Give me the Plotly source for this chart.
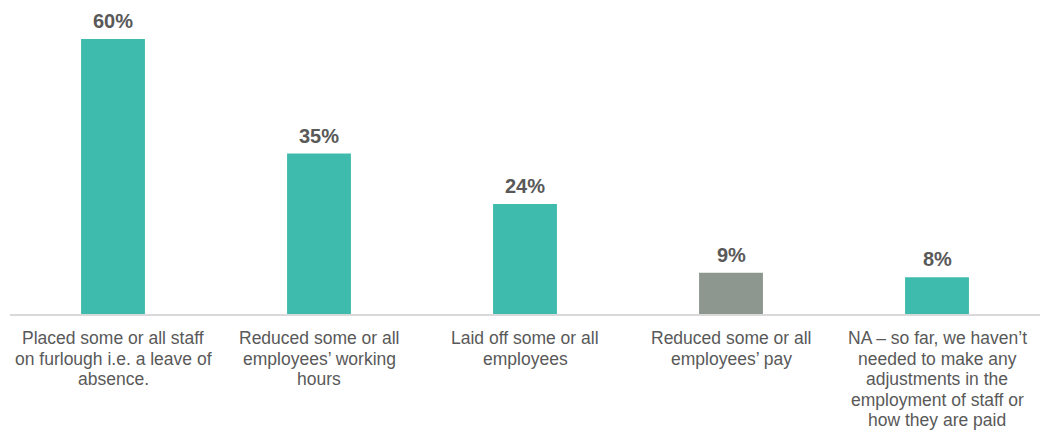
import plotly.graph_objects as go

categories = [
    "Placed some or all staff<br>on furlough i.e. a leave of<br>absence.",
    "Reduced some or all<br>employees’ working<br>hours",
    "Laid off some or all<br>employees",
    "Reduced some or all<br>employees’ pay",
    "NA – so far, we haven’t<br>needed to make any<br>adjustments in the<br>employment of staff or<br>how they are paid",
]
values = [60, 35, 24, 9, 8]
value_labels = ["60%", "35%", "24%", "9%", "8%"]
bar_colors = ["#3FBBAE", "#3FBBAE", "#3FBBAE", "#8E9690", "#3FBBAE"]

xs = list(range(len(categories)))
FONT = "Arial, Liberation Sans"

fig = go.Figure()
fig.add_trace(go.Bar(
    x=xs, y=values,
    marker=dict(color=bar_colors, line=dict(width=0)),
    hoverinfo="skip",
))

for x, v, t in zip(xs, values, value_labels):
    fig.add_annotation(x=x, y=v, text="<b>%s</b>" % t, showarrow=False,
                       yanchor="bottom", yshift=5,
                       font=dict(family=FONT, size=20, color="#595959"))

# category labels, one annotation per line for tighter line spacing
for x, cat in zip(xs, categories):
    for k, line in enumerate(cat.split("<br>")):
        fig.add_annotation(x=x, y=0, text=line, showarrow=False,
                           yanchor="top", yshift=-12 - 20.5 * k,
                           font=dict(family=FONT, size=17.5, color="#595959"))

fig.update_layout(
    width=1040, height=430,
    margin=dict(l=10, r=0, t=16, b=116),
    paper_bgcolor="white", plot_bgcolor="white",
    bargap=0.69,
    showlegend=False,
    font=dict(family=FONT, color="#595959"),
)
fig.update_xaxes(
    tickmode="array", tickvals=xs, showticklabels=False,
    showline=True, linecolor="#D9D9D9", linewidth=2,
    showgrid=False, zeroline=False, ticks="", range=[-0.5, 4.5],
    automargin=False,
)
fig.update_yaxes(range=[0, 65], visible=False, showgrid=False, zeroline=False)

fig.write_html("out.html", config={"displayModeBar": False},
               post_script="document.body.style.margin='0';")
